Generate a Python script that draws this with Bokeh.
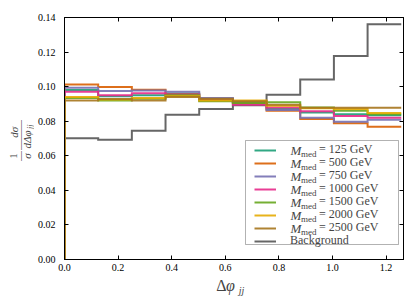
import math
from bokeh.plotting import figure
from bokeh.layouts import row, column
from bokeh.models import (FixedTicker, PrintfTickFormatter, LinearAxis, Legend,
                          LegendItem, Label, BoxAnnotation, Range1d)
from bokeh.embed import file_html
from bokeh.resources import INLINE

# ---------------- data ----------------
bin_edges = [0.0, 0.1257, 0.2513, 0.3770, 0.5027, 0.6283, 0.7540, 0.8796, 1.0053, 1.1310, 1.2566]

m125 = [0.0980, 0.0945, 0.0950, 0.0960, 0.0925, 0.0910, 0.0870, 0.0850, 0.0840, 0.0835]
m500 = [0.1012, 0.0998, 0.0982, 0.0955, 0.0930, 0.0905, 0.0860, 0.0813, 0.0788, 0.0768]
m750 = [0.0993, 0.0975, 0.0978, 0.0970, 0.0935, 0.0910, 0.0865, 0.0820, 0.0797, 0.0808]
m1000 = [0.0970, 0.0950, 0.0962, 0.0955, 0.0920, 0.0895, 0.0880, 0.0858, 0.0830, 0.0820]
m1500 = [0.0935, 0.0920, 0.0930, 0.0950, 0.0915, 0.0905, 0.0910, 0.0880, 0.0860, 0.0840]
m2000 = [0.0940, 0.0925, 0.0935, 0.0945, 0.0920, 0.0920, 0.0890, 0.0875, 0.0870, 0.0848]
m2500 = [0.0920, 0.0928, 0.0920, 0.0940, 0.0930, 0.0915, 0.0895, 0.0878, 0.0878, 0.0878]
background = [0.0701, 0.0693, 0.0745, 0.0838, 0.0870, 0.0893, 0.0953, 0.1041, 0.1177, 0.1361]

mass_labels = ["125", "500", "750", "1000", "1500", "2000", "2500"]
signals = [m125, m500, m750, m1000, m1500, m2000, m2500]
colors = ["#1b9e77", "#d95f02", "#7570b3", "#e7298a", "#66a61e", "#e6ab02", "#a6761d"]
bkg_color = "#666666"

x_ticks = [0.0, 0.2, 0.4, 0.6, 0.8, 1.0, 1.2]
y_ticks = [0.0, 0.02, 0.04, 0.06, 0.08, 0.10, 0.12, 0.14]

XMAX = 1.265
YMAX = 0.14
FONT = "Liberation Serif"
LEG_FS = 12

# page-pixel layout
LEFT_W = 34
FL, FR, FT, FB = 63, 402, 17, 259
MAIN_BOTTOM = 17
H_MAIN = FB + MAIN_BOTTOM
H_BOT = 26
TOTAL_W = 412
ITEM_H = 14.5  # legend row height for 12px text


def dx(px):
    return (px - FL) / (FR - FL) * XMAX


def dy(py):
    return (FB - py) / (FB - FT) * YMAX


p = figure(frame_width=FR - FL, frame_height=FB - FT,
           min_border_left=FL - LEFT_W, min_border_right=TOTAL_W - FR, min_border_top=FT,
           min_border_bottom=MAIN_BOTTOM,
           x_range=Range1d(0, XMAX), y_range=Range1d(0, YMAX),
           output_backend="svg", toolbar_location=None)
p.background_fill_color = "white"
p.border_fill_color = "white"
p.xgrid.visible = False
p.ygrid.visible = False
p.outline_line_color = "black"


def step_xy(vals):
    xs = [bin_edges[0]] + bin_edges
    ys = [0.0] + vals + [vals[-1]]
    return xs, ys


bx, by = step_xy(background)
r_bkg = p.step(bx, by, mode="after", line_color=bkg_color, line_width=2, line_join="miter")
sig_renderers = []
for vals, c in zip(signals, colors):
    xs, ys = step_xy(vals)
    r = p.step(xs, ys, mode="after", line_color=c, line_width=2, line_join="miter", line_alpha=0.9)
    sig_renderers.append(r)

# axes styling
for ax in [p.xaxis[0], p.yaxis[0]]:
    ax.major_tick_in = 4
    ax.major_tick_out = 0
    ax.minor_tick_in = 0
    ax.minor_tick_out = 0
    ax.axis_line_color = "black"
    ax.major_tick_line_color = "black"
    ax.major_label_text_font = FONT
    ax.major_label_text_font_size = "10px"
    ax.major_label_text_color = "black"

p.xaxis[0].ticker = FixedTicker(ticks=x_ticks)
p.xaxis[0].formatter = PrintfTickFormatter(format="%.1f")
p.xaxis[0].major_label_standoff = 4
p.yaxis[0].ticker = FixedTicker(ticks=y_ticks)
p.yaxis[0].formatter = PrintfTickFormatter(format="%.2f")
p.yaxis[0].major_label_standoff = 9

top = LinearAxis(ticker=FixedTicker(ticks=x_ticks), major_tick_in=4, major_tick_out=0,
                 minor_tick_in=0, minor_tick_out=0, major_label_text_font_size="1px",
                 major_label_text_color=None, major_label_standoff=0, axis_line_color="black")
right = LinearAxis(ticker=FixedTicker(ticks=y_ticks), major_tick_in=4, major_tick_out=0,
                   minor_tick_in=0, minor_tick_out=0, major_label_text_font_size="1px",
                   major_label_text_color=None, major_label_standoff=0, axis_line_color="black")
p.add_layout(top, "above")
p.add_layout(right, "right")

# legend frame
box = BoxAnnotation(left=dx(244), right=dx(397), top=dy(140), bottom=dy(244),
                    fill_color="white", fill_alpha=1.0, line_color="black", line_width=1,
                    level="annotation")
p.add_layout(box)

ROW0 = 150
PITCH = 13
entries = [("= %s GeV" % m, r, 43) for m, r in zip(mass_labels, sig_renderers)]
entries.append(("Background", r_bkg, 14))
for i, (lab, r, standoff) in enumerate(entries):
    yc = ROW0 + i * PITCH
    leg = Legend(items=[LegendItem(label=lab, renderers=[r])],
                 location=(253 - FL, FB - (yc + ITEM_H / 2)),
                 padding=0, spacing=0, margin=0,
                 glyph_width=22, glyph_height=12, label_height=12, label_standoff=standoff,
                 label_text_font=FONT, label_text_font_size="%dpx" % LEG_FS,
                 border_line_color=None, background_fill_alpha=0.0)
    p.add_layout(leg)

# "M_med" prefixes
for i in range(len(mass_labels)):
    yc = ROW0 + i * PITCH
    p.add_layout(Label(x=dx(289), y=dy(yc), text="M", text_font=FONT, text_font_style="italic",
                       text_font_size="%dpx" % (LEG_FS + 1), text_align="left",
                       text_baseline="middle"))
    p.add_layout(Label(x=dx(299.5), y=dy(yc + 3), text="med", text_font=FONT,
                       text_font_size="9px", text_align="left", text_baseline="middle"))


def strip(w, h):
    f = figure(width=w, height=h, x_range=Range1d(0, w), y_range=Range1d(h, 0),
               x_axis_type=None, y_axis_type=None, min_border=0,
               output_backend="svg", toolbar_location=None)
    f.outline_line_color = None
    f.xgrid.visible = False
    f.ygrid.visible = False
    f.background_fill_color = "white"
    f.border_fill_color = "white"
    return f


# y axis label strip (rotated fraction), coordinates are strip pixels
left_fig = strip(LEFT_W, H_MAIN)
A = math.pi / 2
ylab = [
    ("1", 13, 158, "normal", 10),
    ("—", 19.5, 158, "normal", 10),
    ("σ", 26.5, 158, "italic", 11),
    ("dσ", 13, 131, "italic", 11),
    ("———", 19.5, 134, "normal", 10),
    ("dΔφ", 26.5, 139, "italic", 11),
    ("jj", 29.5, 124.5, "italic", 8),
]
for t, px, py, st, fs in ylab:
    left_fig.add_layout(Label(x=px, y=py, text=t, angle=A, text_font=FONT,
                              text_font_style=st, text_font_size="%dpx" % fs,
                              text_align="center", text_baseline="middle"))

# x axis label strip
bot_fig = strip(TOTAL_W, H_BOT)
xl = [("Δ", 221, 285, "normal", 16), ("φ", 230, 285, "italic", 16), ("jj", 241, 290, "italic", 10)]
for t, px, py, st, fs in xl:
    bot_fig.add_layout(Label(x=px, y=py - H_MAIN, text=t, text_font=FONT,
                             text_font_style=st, text_font_size="%dpx" % fs,
                             text_align="center", text_baseline="middle"))

layout = column(row(left_fig, p, spacing=0), bot_fig, spacing=0)
open("out.html", "w").write(file_html(layout, INLINE))
